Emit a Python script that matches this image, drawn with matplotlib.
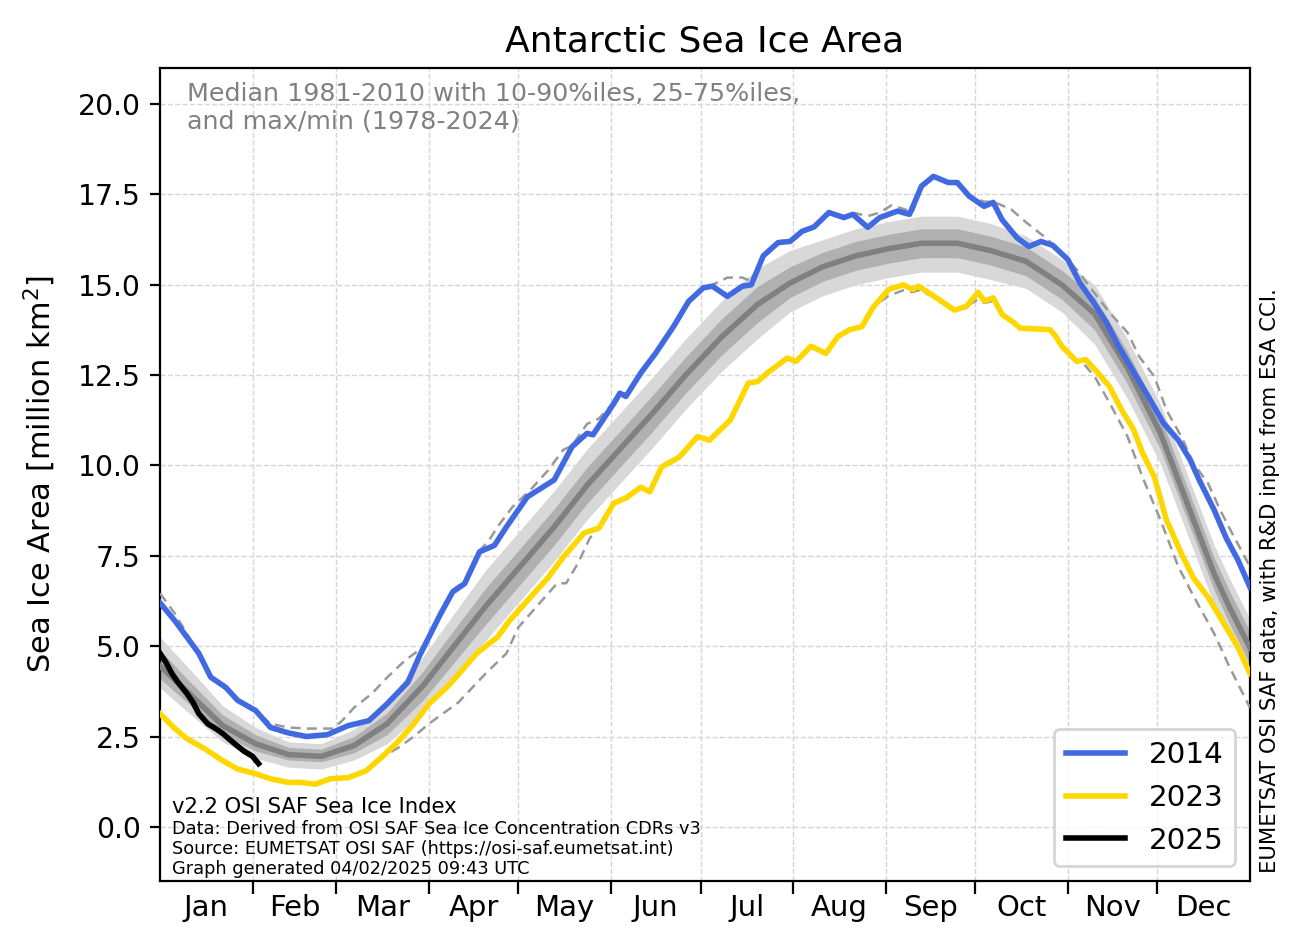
import matplotlib
matplotlib.use('Agg')
import matplotlib.pyplot as plt

# climatology 1981-2010 (day of year, million km2)
band_days = [0, 9, 21, 32, 43, 54, 65, 76, 88, 98, 109, 120, 132, 143, 154, 165, 176, 188, 200, 211,
             222, 233, 244, 255, 267, 278, 290, 302, 313, 324, 335, 341, 347, 353, 358, 365]
median = [4.45, 3.75, 2.8, 2.3, 2.0, 1.95, 2.25, 2.85, 3.9, 4.95, 6.1, 7.15, 8.3, 9.45, 10.45, 11.45, 12.5, 13.55,
          14.45, 15.05, 15.5, 15.8, 16.0, 16.15, 16.15, 15.95, 15.65, 15.0, 14.2, 12.7, 10.9, 9.6, 8.3, 7.0, 6.1, 4.95]
p90 = [5.25, 4.45, 3.35, 2.75, 2.35, 2.3, 2.7, 3.5, 4.7, 5.85, 7.1, 8.15, 9.3, 10.45, 11.45, 12.45, 13.5, 14.55,
       15.45, 15.95, 16.25, 16.55, 16.75, 16.9, 16.9, 16.7, 16.35, 15.7, 15.0, 13.5, 11.7, 10.4, 9.1, 7.8, 6.9, 5.75]
p75 = [4.9, 4.1, 3.1, 2.55, 2.2, 2.15, 2.5, 3.15, 4.3, 5.4, 6.6, 7.65, 8.8, 9.95, 10.95, 11.95, 13.0, 14.05,
       14.95, 15.5, 15.9, 16.2, 16.4, 16.55, 16.55, 16.35, 16.05, 15.4, 14.65, 13.15, 11.35, 10.05, 8.75, 7.45, 6.55, 5.4]
p25 = [4.1, 3.45, 2.55, 2.1, 1.85, 1.8, 2.05, 2.55, 3.5, 4.5, 5.6, 6.65, 7.8, 8.95, 9.95, 10.95, 12.0, 13.05,
       13.95, 14.65, 15.1, 15.4, 15.6, 15.75, 15.75, 15.55, 15.25, 14.6, 13.75, 12.25, 10.45, 9.15, 7.85, 6.55, 5.65, 4.5]
p10 = [3.85, 3.2, 2.35, 1.9, 1.65, 1.6, 1.85, 2.3, 3.15, 4.1, 5.15, 6.2, 7.35, 8.5, 9.5, 10.5, 11.55, 12.6,
       13.5, 14.25, 14.7, 15.0, 15.2, 15.35, 15.35, 15.15, 14.9, 14.25, 13.35, 11.85, 10.05, 8.75, 7.45, 6.15, 5.25, 4.15]

# record max / min 1978-2024
days_max = [0, 5, 9, 14, 17, 22, 26, 32, 37, 43, 49, 54, 58, 61, 65, 71, 76, 82, 88, 94,
            98, 102, 107, 110, 113, 118, 124, 130, 135, 138, 143, 147, 152, 154, 156, 161, 166, 172, 177, 182,
            185, 190, 195, 198, 202, 207, 211, 215, 219, 224, 229, 233, 237, 241, 245, 249, 252, 255, 259, 264,
            267, 271, 276, 279, 285, 290, 296, 301, 307, 312, 318, 324, 328, 333, 337, 342, 346, 351, 355, 359, 365]
max_area = [6.46, 5.9, 5.35, 4.6, 4.14, 3.86, 3.5, 3.22, 2.85, 2.75, 2.72, 2.72, 2.72, 2.94, 3.3, 3.69, 4.13, 4.6, 4.97, 5.95,
            6.55, 6.8, 7.65, 7.9, 8.3, 8.85, 9.32, 9.87, 10.43, 10.55, 11.15, 11.3, 11.75, 12.0, 12.0, 12.56, 13.11, 13.85, 14.54, 14.92,
            15.0, 15.2, 15.2, 15.1, 15.8, 16.17, 16.2, 16.48, 16.6, 17.0, 16.9, 16.98, 16.9, 17.0, 17.2, 17.1, 17.0, 17.73, 18.0, 17.83,
            17.83, 17.45, 17.3, 17.3, 17.09, 16.73, 16.34, 15.98, 15.42, 14.87, 14.23, 13.68, 13.0, 12.46, 11.54, 10.8, 10.07, 9.5, 8.77, 8.13, 7.2]
days_min = [0, 5, 9, 15, 21, 26, 32, 37, 43, 47, 52, 57, 63, 69, 74, 80, 85, 90, 95, 100,
            109, 116, 120, 127, 133, 136, 140, 144, 147, 152, 156, 161, 164, 168, 174, 180, 184, 191, 197, 200,
            204, 210, 213, 218, 223, 227, 231, 235, 239, 244, 249, 252, 254, 260, 266, 270, 274, 276, 279, 282,
            286, 288, 298, 300, 302, 307, 310, 313, 318, 324, 329, 335, 341, 346, 353, 358, 365]
min_area = [3.13, 2.72, 2.44, 2.16, 1.83, 1.6, 1.47, 1.33, 1.23, 1.23, 1.18, 1.33, 1.36, 1.55, 1.91, 2.2, 2.5, 2.85, 3.15, 3.45,
            4.24, 4.8, 5.52, 6.18, 6.74, 6.74, 7.3, 8.0, 8.27, 8.96, 9.1, 9.4, 9.27, 9.96, 10.24, 10.8, 10.7, 11.26, 12.28, 12.32,
            12.6, 12.97, 12.88, 13.3, 13.1, 13.57, 13.76, 13.84, 14.4, 14.7, 14.85, 14.8, 14.85, 14.64, 14.3, 14.4, 14.6, 14.5, 14.55, 14.18,
            13.95, 13.8, 13.76, 13.57, 13.3, 12.88, 12.75, 12.46, 11.73, 10.8, 9.68, 8.5, 7.2, 6.4, 5.35, 4.45, 3.3]

# individual years
days_2014 = [0, 5, 9, 13, 17, 22, 26, 32, 37, 43, 49, 56, 63, 70, 76, 83, 87, 94, 98, 102,
             107, 112, 116, 123, 132, 138, 143, 145, 152, 154, 156, 161, 166, 172, 177, 182, 185, 190, 195, 198,
             202, 207, 211, 215, 219, 224, 229, 232, 237, 241, 247, 251, 255, 259, 264, 267, 271, 276, 279, 282,
             287, 291, 295, 299, 304, 308, 312, 317, 321, 327, 331, 336, 341, 345, 348, 353, 357, 361, 365]
area_2014 = [6.2, 5.7, 5.25, 4.8, 4.14, 3.86, 3.5, 3.22, 2.75, 2.6, 2.5, 2.55, 2.8, 2.94, 3.4, 4.0, 4.75, 5.9, 6.5, 6.73,
             7.61, 7.79, 8.3, 9.13, 9.6, 10.52, 10.89, 10.85, 11.72, 12.0, 11.91, 12.56, 13.11, 13.85, 14.54, 14.92, 14.96, 14.68, 14.96, 15.0,
             15.8, 16.17, 16.2, 16.48, 16.6, 17.0, 16.86, 16.95, 16.59, 16.86, 17.04, 16.95, 17.73, 18.0, 17.83, 17.83, 17.45, 17.17, 17.28, 16.8,
             16.3, 16.06, 16.2, 16.09, 15.7, 15.06, 14.59, 13.95, 13.3, 12.46, 11.9, 11.18, 10.7, 10.15, 9.6, 8.77, 8.0, 7.38, 6.63]
days_2023 = [0, 5, 9, 15, 21, 26, 32, 37, 43, 47, 52, 57, 63, 69, 74, 80, 85, 90, 96, 99,
             106, 113, 117, 124, 130, 135, 142, 147, 152, 156, 161, 164, 168, 174, 180, 184, 191, 197, 200, 204,
             210, 213, 218, 223, 227, 231, 235, 239, 244, 249, 252, 254, 260, 266, 270, 274, 276, 279, 282, 286,
             288, 298, 300, 302, 307, 310, 314, 318, 322, 326, 329, 333, 337, 342, 346, 351, 355, 361, 365]
area_2023 = [3.13, 2.72, 2.44, 2.16, 1.83, 1.6, 1.47, 1.33, 1.23, 1.23, 1.18, 1.33, 1.36, 1.55, 1.91, 2.38, 2.85, 3.4, 3.86, 4.13,
             4.8, 5.25, 5.7, 6.35, 6.9, 7.46, 8.13, 8.27, 8.96, 9.1, 9.4, 9.27, 9.96, 10.24, 10.8, 10.7, 11.26, 12.28, 12.32, 12.6,
             12.97, 12.88, 13.3, 13.1, 13.57, 13.76, 13.84, 14.4, 14.87, 15.0, 14.87, 14.96, 14.64, 14.3, 14.4, 14.79, 14.55, 14.64, 14.18, 13.95,
             13.8, 13.76, 13.57, 13.3, 12.88, 12.93, 12.57, 12.18, 11.54, 11.0, 10.35, 9.68, 8.5, 7.57, 6.9, 6.35, 5.8, 4.97, 4.24]
days_2025 = [0, 2, 4, 6, 9, 11, 13, 16, 19, 21, 25, 28, 31, 33]
area_2025 = [4.8, 4.55, 4.24, 4.0, 3.69, 3.45, 3.13, 2.85, 2.7, 2.58, 2.3, 2.1, 1.95, 1.75]

months = ['Jan', 'Feb', 'Mar', 'Apr', 'May', 'Jun', 'Jul', 'Aug', 'Sep', 'Oct', 'Nov', 'Dec']
month_len = [31, 28, 31, 30, 31, 30, 31, 31, 30, 31, 30, 31]

month_start = [sum(month_len[:i]) for i in range(12)]
month_mid = [s + n / 2 for s, n in zip(month_start, month_len)]

fig = plt.figure(figsize=(6.515, 4.715), dpi=200)
ax = fig.add_axes([0.1228, 0.0657, 0.8365, 0.8622])

ax.fill_between(band_days, p10, p90, color='#d8d8d8', lw=0, zorder=1)
ax.fill_between(band_days, p25, p75, color='#b0b0b0', lw=0, zorder=2)
ax.plot(band_days, median, color='#808080', lw=2, zorder=3)
ax.plot(days_max, max_area, color='#999999', lw=0.9, ls=(0, (4, 2.5)), zorder=3)
ax.plot(days_min, min_area, color='#999999', lw=0.9, ls=(0, (4, 2.5)), zorder=3)

ax.plot(days_2014, area_2014, color='royalblue', lw=2, label='2014', zorder=4)
ax.plot(days_2023, area_2023, color='gold', lw=2, label='2023', zorder=4)
ax.plot(days_2025, area_2025, color='black', lw=2, label='2025', zorder=5)

ax.set_xlim(0, 365)
ax.set_ylim(-1.5, 21.0)
ax.set_xticks(month_start[1:])
ax.set_xticklabels([])
ax.set_xticks(month_mid, minor=True)
ax.set_xticklabels(months, minor=True, fontsize=10.5)
ax.tick_params(axis='x', which='major', length=4.5)
ax.tick_params(axis='x', which='minor', length=0, pad=4.5)
ax.set_yticks([0, 2.5, 5, 7.5, 10, 12.5, 15, 17.5, 20])
ax.set_yticklabels(['%.1f' % v for v in [0, 2.5, 5, 7.5, 10, 12.5, 15, 17.5, 20]], fontsize=10.2)
ax.grid(True, which='major', ls='--', lw=0.5, color='#d5d5d5', zorder=0)
ax.set_axisbelow(True)

ax.set_title('Antarctic Sea Ice Area', fontsize=13)
ax.set_ylabel('Sea Ice Area [million km$^2$]', fontsize=11, labelpad=7)

ax.text(0.025, 0.983, 'Median 1981-2010 with 10-90%iles, 25-75%iles,\nand max/min (1978-2024)',
        transform=ax.transAxes, ha='left', va='top', fontsize=9.15, color='gray')
ax.text(0.011, 0.079, 'v2.2 OSI SAF Sea Ice Index', transform=ax.transAxes, ha='left', va='bottom', fontsize=7.6)
ax.text(0.011, 0.004, 'Data: Derived from OSI SAF Sea Ice Concentration CDRs v3\n'
        'Source: EUMETSAT OSI SAF (https://osi-saf.eumetsat.int)\n'
        'Graph generated 04/02/2025 09:43 UTC',
        transform=ax.transAxes, ha='left', va='bottom', fontsize=6.4, linespacing=1.15)
ax.text(1.009, 0.01, 'EUMETSAT OSI SAF data, with R&D input from ESA CCI.', transform=ax.transAxes,
        rotation=90, ha='left', va='bottom', fontsize=7.6)

ax.legend(loc='lower right', fontsize=10.6)

fig.savefig('out.png', dpi=200)
